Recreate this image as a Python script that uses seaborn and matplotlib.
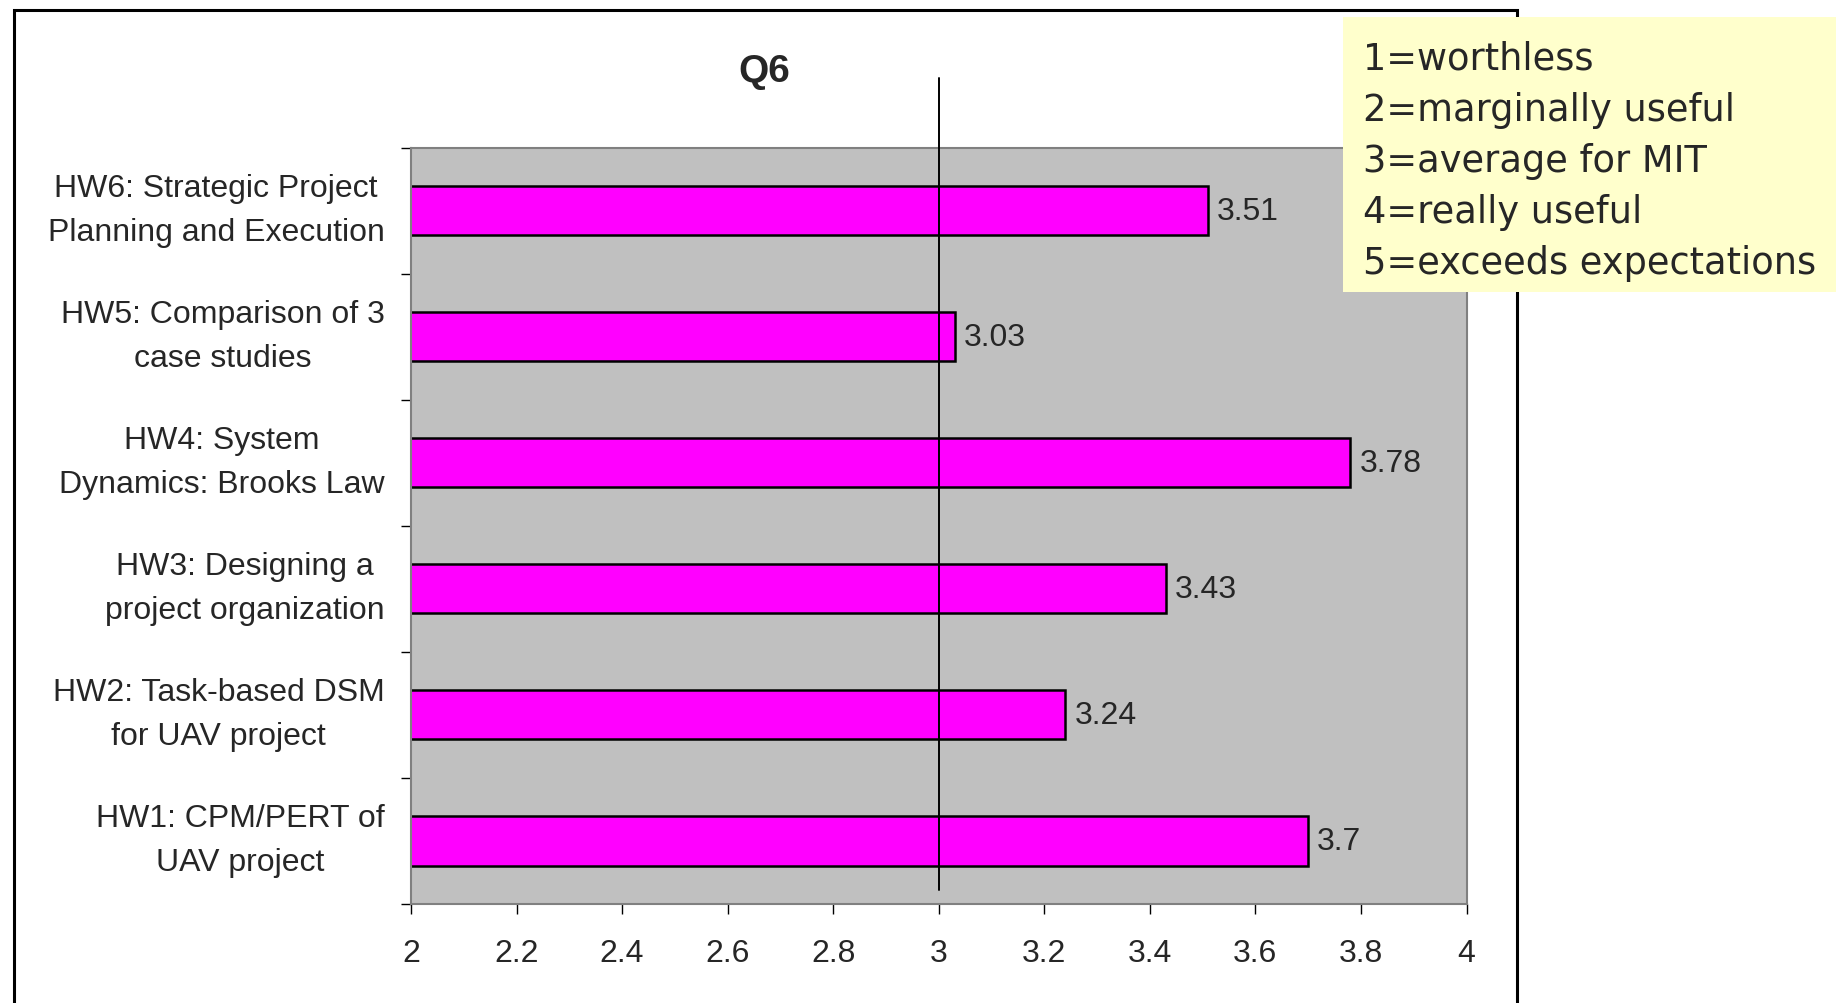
import matplotlib
matplotlib.use("Agg")
import matplotlib.pyplot as plt
from matplotlib.patches import Rectangle
from matplotlib.transforms import ScaledTranslation
import numpy as np
import pandas as pd
import seaborn as sns

# Survey results: usefulness of each homework assignment
assignments = [
    "HW6: Strategic Project\nPlanning and Execution",
    "HW5: Comparison of 3\ncase studies",
    "HW4: System\nDynamics: Brooks Law",
    "HW3: Designing a\nproject organization",
    "HW2: Task-based DSM\nfor UAV project",
    "HW1: CPM/PERT of\nUAV project",
]
scores = [3.51, 3.03, 3.78, 3.43, 3.24, 3.7]
score_labels = ["3.51", "3.03", "3.78", "3.43", "3.24", "3.7"]

x_ticks = [2, 2.2, 2.4, 2.6, 2.8, 3, 3.2, 3.4, 3.6, 3.8, 4]
x_tick_labels = ["2", "2.2", "2.4", "2.6", "2.8", "3", "3.2", "3.4", "3.6", "3.8", "4"]

scale_lines = [
    "1=worthless",
    "2=marginally useful",
    "3=average for MIT",
    "4=really useful",
    "5=exceeds expectations",
]
mit_average = 3
title = "Q6"

W, H = 1843, 1004
sns.set_style("white")
plt.rcParams["font.family"] = ["Liberation Sans", "DejaVu Sans"]

fig = plt.figure(figsize=(W / 100, H / 100), dpi=100)
fig.patch.set_facecolor("white")

# outer frame of the chart area
fig.add_artist(Rectangle((13.5 / W, -0.05), (1516.5 - 13.5) / W, 1 - 11 / H + 0.05,
                         transform=fig.transFigure, fill=False, edgecolor="black",
                         linewidth=2.2, zorder=0))

ax = fig.add_axes([411 / W, (H - 905) / H, (1466.5 - 411) / W, (905 - 148.5) / H])
ax.set_facecolor("#C0C0C0")

df = pd.DataFrame({"assignment": assignments, "score": scores})
sns.barplot(data=df, y="assignment", x="score", orient="h", color="#FF00FF",
            saturation=1, edgecolor="black", linewidth=1.8, width=0.39, ax=ax,
            zorder=2)

ax.set_xlim(2, 4)
ax.set_ylim(5.5, -0.5)
ax.set_xlabel("")
ax.set_ylabel("")

# x axis
ax.set_xticks(x_ticks)
ax.set_xticklabels(x_tick_labels, fontsize=23)
ax.tick_params(axis="x", direction="out", length=7.2, width=1, color="black",
               pad=17, bottom=True)

# y axis: labels at category centres, tick marks between categories
ax.set_yticks(range(len(assignments)))
ax.set_yticklabels(assignments, fontsize=23, multialignment="center", linespacing=1.62)
ax.tick_params(axis="y", which="major", length=0, pad=19)
lift = ScaledTranslation(0, 0.115, fig.dpi_scale_trans)
for lbl in ax.get_yticklabels():
    lbl.set_transform(lbl.get_transform() + lift)
ax.set_yticks(np.arange(-0.5, len(assignments), 1.0), minor=True)
ax.tick_params(axis="y", which="minor", direction="out", length=7.2, width=1,
               color="black", left=True)

for side in ["left", "right", "top", "bottom"]:
    ax.spines[side].set_visible(True)
    ax.spines[side].set_color("#808080")
    ax.spines[side].set_linewidth(1.5)

# value labels
ax.bar_label(ax.containers[0], labels=score_labels, padding=6.5, fontsize=23)

# reference line at the "average for MIT" level
ax.axvline(mit_average, ymin=0.0185, ymax=1.0925, color="black", linewidth=1.4,
           clip_on=False, zorder=5)

# title
fig.text(764 / W, 1 - 71.5 / H, title, ha="center", va="center", fontsize=28,
         fontweight="bold")

# rating scale key
fig.add_artist(Rectangle((1343 / W, 1 - 293 / H), (1836 - 1343) / W, (293 - 18) / H,
                         transform=fig.transFigure, facecolor="#FFFFCC",
                         edgecolor="none", zorder=3))
for i, line in enumerate(scale_lines):
    fig.text(1363 / W, 1 - (69.5 + 51.2 * i) / H, line, ha="left", va="baseline",
             fontsize=26.5, family="DejaVu Sans", zorder=4)

fig.savefig("out.png", dpi=100)
